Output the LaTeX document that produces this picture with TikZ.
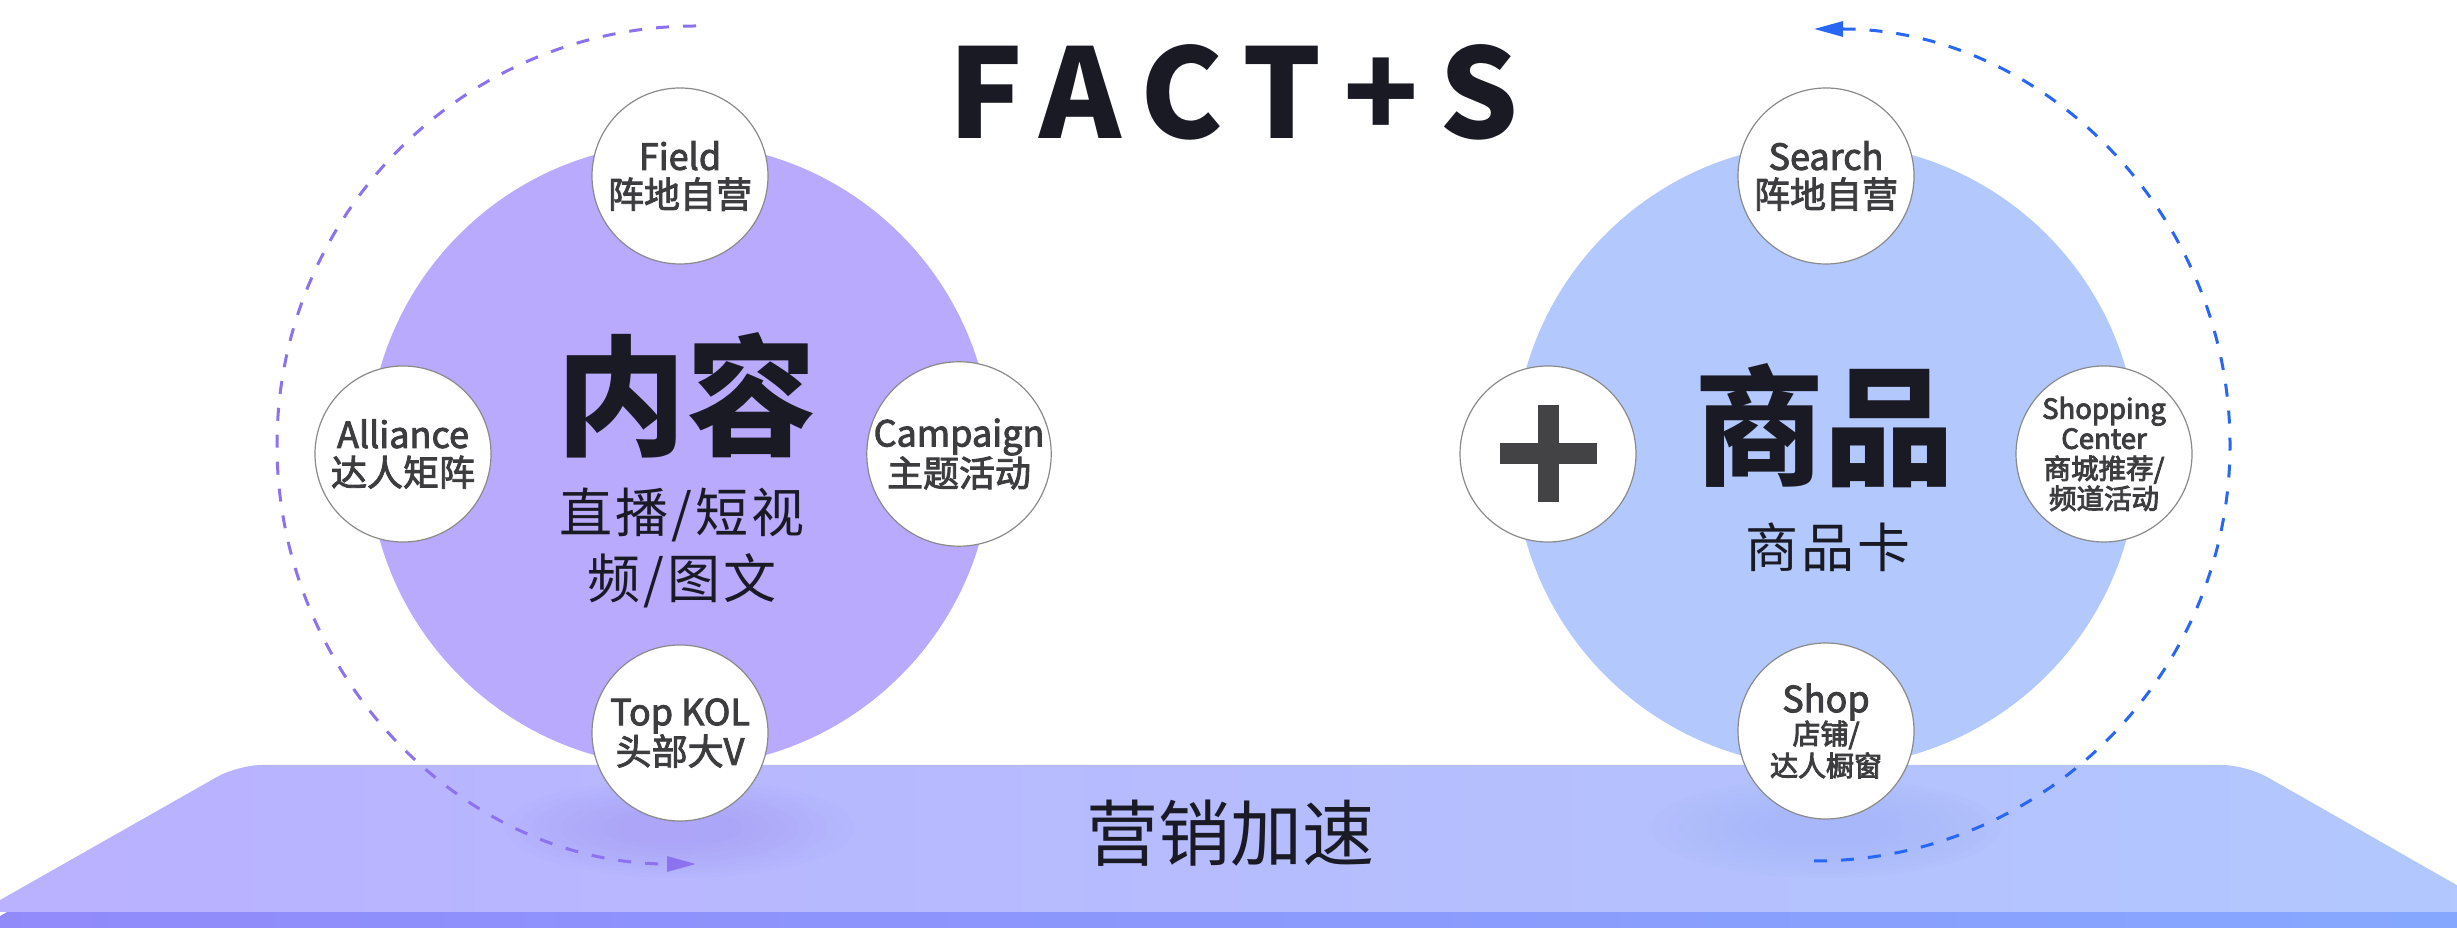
\documentclass[tikz,border=0pt]{standalone}
\usepackage{fontspec}
\setmainfont{Noto Sans CJK SC}
\newfontfamily\titlefont{Noto Sans CJK SC}[LetterSpace=17]
\newfontfamily\subfont{Noto Sans CJK SC}[LetterSpace=6]
\usetikzlibrary{arrows.meta}
\definecolor{lpurple}{HTML}{BAAAFD}
\definecolor{lblue}{HTML}{B3C8FD}
\definecolor{platL}{HTML}{BAB1FF}
\definecolor{platR}{HTML}{B2C8FE}
\definecolor{darkL}{HTML}{918AFB}
\definecolor{darkR}{HTML}{86A8FE}
\definecolor{glowL}{HTML}{9C8FF8}
\definecolor{glowR}{HTML}{98A8FA}
\definecolor{arcP}{HTML}{8D72EF}
\definecolor{arcB}{HTML}{2866F6}
\definecolor{ink}{HTML}{1A1A24}
\definecolor{lab}{HTML}{3D3D40}
\definecolor{plusc}{HTML}{434345}
\definecolor{ringc}{HTML}{8A8A8A}
\begin{document}
\begin{tikzpicture}[x=1pt,y=1pt,
  smallc/.style={circle, draw=ringc, line width=1.2pt, fill=white, minimum size=176pt, inner sep=0pt, align=center, text=lab, font=\fontsize{36}{38}\selectfont,
    execute at begin node={\special{pdf:literal direct 2 Tr 0.9 w}},
    execute at end node={\special{pdf:literal direct 0 Tr}}},
  bigc/.style={circle, minimum size=624pt, inner sep=0pt},
  cyc/.style={line width=3pt, dash pattern=on 13pt off 14pt, -{Triangle[length=29pt,width=15pt]}},
  bigtxt/.style={text=ink, font=\bfseries\fontsize{130}{130}\selectfont, inner sep=0pt},
  subtxt/.style={text=ink, align=center, font=\subfont\fontsize{53}{66}\selectfont, inner sep=0pt},
]
\useasboundingbox (0,0) rectangle (2457,928);

% big circles
\node[bigc, fill=lpurple] (cL) at (680,473) {};
\node[bigc, fill=lblue] (cR) at (1826,473) {};

% platform
\shade[left color=darkL, right color=darkR, rounded corners=24pt]
  (1000,147) -- (2246,147) -- (2504,0) -- (-21,0) -- (238,147) -- cycle;
\shade[left color=platL, right color=platR, rounded corners=24pt]
  (1000,163) -- (2246,163) -- (2504,16) -- (-21,16) -- (238,163) -- cycle;

% glows
\foreach \s in {1.0,0.92,...,0.3}{
  \fill[glowL, opacity=0.045] (680,100) ellipse[x radius=175*\s, y radius=50*\s];
  \fill[glowR, opacity=0.045] (1826,100) ellipse[x radius=175*\s, y radius=50*\s];
}

% title
\node[text=ink, font=\titlefont\bfseries\fontsize{124}{124}\selectfont, inner sep=0pt] (title) at (1234,836) {FACT+S};

% left group
\node[bigtxt] (neirong) at (686,533) {内容};
\node[subtxt] (neirongsub) at (682,380) {直播/短视\\频/图文};
\node[smallc] (field) at (680,752) {Field\\阵地自营};
\node[smallc] (alliance) at (403,474) {Alliance\\达人矩阵};
\node[smallc] (campaign) at (959,474) {Campaign\\主题活动};
\node[smallc] (topkol) at (680,195) {Top KOL\\头部大V};

% right group
\node[bigtxt] (shangpin) at (1824,502) {商品};
\node[subtxt] (spk) at (1828,381) {商品卡};
\node[smallc] (search) at (1826,752) {Search\\阵地自营};
\node[smallc, font=\fontsize{27.5}{30}\selectfont] (shopc) at (2104,474) {Shopping\\Center\\商城推荐/\\频道活动};
\node[smallc, font=\fontsize{28}{32}\selectfont] (shop) at (1826,197) {{\fontsize{36}{36}\selectfont Shop}\\店铺/\\达人橱窗};
\node[smallc] (plus) at (1548,474) {};
\fill[plusc] ([shift={(-48.5,-10.5)}]plus.center) rectangle ([shift={(48.5,10.5)}]plus.center);
\fill[plusc] ([shift={(-10.5,-48.5)}]plus.center) rectangle ([shift={(10.5,48.5)}]plus.center);

% bottom label
\node[text=ink, font=\fontsize{72}{72}\selectfont, inner sep=0pt] (yingxiao) at (1230,95) {营销加速};

% cycle arrows
\coordinate (lstart) at (696,902);
\coordinate (rstart) at (1814,67);
\draw[cyc, arcP] (lstart) arc[start angle=90, end angle=270, radius=419];
\draw[cyc, arcB] (rstart) arc[start angle=-90, end angle=90, radius=416];
\end{tikzpicture}
\end{document}
